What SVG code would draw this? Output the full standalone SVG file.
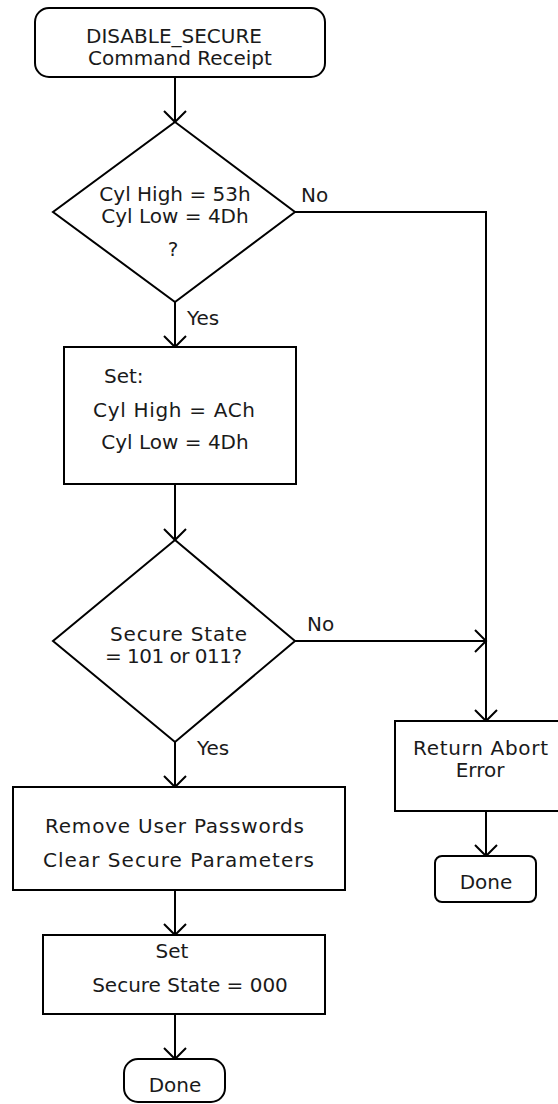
<svg xmlns="http://www.w3.org/2000/svg" width="558" height="1104" viewBox="0 0 558 1104">
<style>
.shape{fill:#fff;stroke:#000;stroke-width:2}
.t{font-family:"DejaVu Sans","Liberation Sans",sans-serif;font-size:20px;fill:#1a1a1a}
.m{text-anchor:middle}
.c{fill:none;stroke:#000;stroke-width:2}
</style>
<defs>
<marker id="arr" markerUnits="userSpaceOnUse" viewBox="-13 -13 15 26" markerWidth="15" markerHeight="26" refX="0" refY="0" orient="auto" overflow="visible">
<path d="M-11,-11 L0,0 L-11,11" fill="none" stroke="#000" stroke-width="2"/>
</marker>
</defs>
<rect width="558" height="1104" fill="#fff"/>
<g id="connectors">
<path class="c" d="M175,77 V122" marker-end="url(#arr)"/>
<path class="c" d="M295,212 H486 V721" marker-end="url(#arr)"/>
<path class="c" d="M175,302 V347" marker-end="url(#arr)"/>
<path class="c" d="M175,484 V540" marker-end="url(#arr)"/>
<path class="c" d="M295,641 H486" marker-end="url(#arr)"/>
<path class="c" d="M175,742 V787" marker-end="url(#arr)"/>
<path class="c" d="M175,890 V935" marker-end="url(#arr)"/>
<path class="c" d="M175,1014 V1059" marker-end="url(#arr)"/>
<path class="c" d="M486,811 V856" marker-end="url(#arr)"/>
<text class="t" x="301" y="202">No</text>
<text class="t" x="187" y="325">Yes</text>
<text class="t" x="307" y="631">No</text>
<text class="t" x="197" y="755">Yes</text>
</g>
<g id="start">
<rect class="shape" x="35" y="8" width="290" height="69" rx="14"/>
<text class="t m" x="174" y="43">DISABLE_SECURE</text>
<text class="t m" x="180" y="65">Command Receipt</text>
</g>
<g id="check-cyl">
<polygon class="shape" points="175,122 295,212 175,302 53,212"/>
<text class="t m" x="175" y="201">Cyl High = 53h</text>
<text class="t m" x="175" y="223">Cyl Low = 4Dh</text>
<text class="t m" x="173" y="256">?</text>
</g>
<g id="set-cyl">
<rect class="shape" x="64" y="347" width="232" height="137"/>
<text class="t" x="104" y="383">Set:</text>
<text class="t" x="93" y="417" textLength="162" lengthAdjust="spacing">Cyl High = ACh</text>
<text class="t m" x="175" y="449">Cyl Low = 4Dh</text>
</g>
<g id="check-state">
<polygon class="shape" points="175,540 295,641 175,742 53,641"/>
<text class="t" x="110" y="641" textLength="137" lengthAdjust="spacing">Secure State</text>
<text class="t" x="105" y="663" textLength="137" lengthAdjust="spacing">= 101 or 011?</text>
</g>
<g id="remove">
<rect class="shape" x="13" y="787" width="332" height="103"/>
<text class="t" x="45" y="833" textLength="259" lengthAdjust="spacing">Remove User Passwords</text>
<text class="t" x="43" y="867" textLength="271" lengthAdjust="spacing">Clear Secure Parameters</text>
</g>
<g id="set-state">
<rect class="shape" x="43" y="935" width="282" height="79"/>
<text class="t m" x="172" y="958">Set</text>
<text class="t m" x="190" y="992">Secure State = 000</text>
</g>
<g id="done-main">
<rect class="shape" x="124" y="1059" width="101" height="43" rx="14"/>
<text class="t m" x="175" y="1092">Done</text>
</g>
<g id="abort">
<rect class="shape" x="395" y="721" width="175" height="90"/>
<text class="t" x="413" y="755" textLength="135" lengthAdjust="spacing">Return Abort</text>
<text class="t m" x="480" y="777">Error</text>
</g>
<g id="done-abort">
<rect class="shape" x="435" y="856" width="101" height="46" rx="7"/>
<text class="t m" x="486" y="889">Done</text>
</g>
</svg>
